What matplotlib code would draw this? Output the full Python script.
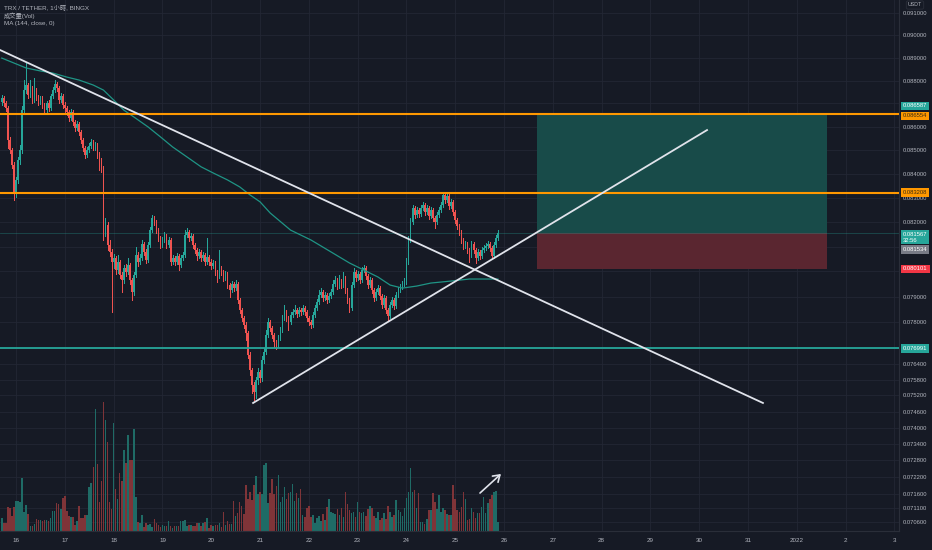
import matplotlib
matplotlib.use('Agg')
import matplotlib.pyplot as plt
import matplotlib.dates as mdates
import matplotlib.transforms as mtransforms
from matplotlib.ticker import NullLocator
import numpy as np
import pandas as pd

# 字体: 拉丁字母用 Liberation Sans, 中文回退到 Noto Sans CJK TC
plt.rcParams['font.family'] = ['Liberation Sans', 'Noto Sans CJK TC', 'DejaVu Sans']

# ---- 数据 (TRX/USDT 1小时K线, 从图上估读) ----
start_time = '2021-12-15 17:00'
first_open = 0.08706

closes = [
    0.08724, 0.08702, 0.08680, 0.08543, 0.08500, 0.08437, 0.08320,
    0.08374, 0.08458, 0.08500, 0.08671, 0.08758, 0.08780, 0.08737, 0.08767, 0.08715, 0.08758,
    0.08728, 0.08706, 0.08724, 0.08693, 0.08671, 0.08702, 0.08680, 0.08732, 0.08758, 0.08784,
    0.08767, 0.08715, 0.08732, 0.08693,
    0.08680, 0.08663, 0.08637, 0.08663, 0.08619, 0.08594, 0.08611, 0.08577, 0.08543, 0.08509,
    0.08479, 0.08500, 0.08517, 0.08534, 0.08509, 0.08522, 0.08479, 0.08450, 0.08424, 0.08159,
    0.08188, 0.08107, 0.08078, 0.08038,
    0.08054, 0.08006, 0.08038, 0.07986, 0.07966, 0.08014, 0.07998, 0.08026, 0.07966, 0.07918,
    0.07986, 0.08066, 0.08038, 0.08054, 0.08111, 0.08078, 0.08046, 0.08107, 0.08167, 0.08216,
    0.08200, 0.08167, 0.08135, 0.08107,
    0.08127, 0.08143, 0.08107, 0.08127, 0.08038, 0.08054, 0.08038, 0.08062, 0.08026, 0.08054,
    0.08066, 0.08147, 0.08159, 0.08135, 0.08143, 0.08107, 0.08086, 0.08062, 0.08078, 0.08054,
    0.08066, 0.08038, 0.08058, 0.08038,
    0.08022, 0.08034, 0.07998, 0.07982, 0.08014, 0.07998, 0.07974, 0.07990, 0.07946, 0.07926,
    0.07950, 0.07934, 0.07950, 0.07887, 0.07848, 0.07816, 0.07789, 0.07758, 0.07674, 0.07616,
    0.07560, 0.07534, 0.07578, 0.07609,
    0.07586, 0.07654, 0.07685, 0.07751, 0.07800, 0.07777, 0.07751, 0.07724, 0.07712, 0.07739,
    0.07770, 0.07816, 0.07840, 0.07816, 0.07800, 0.07828, 0.07840, 0.07848, 0.07832, 0.07848,
    0.07840, 0.07856, 0.07840, 0.07816,
    0.07800, 0.07789, 0.07828, 0.07856, 0.07879, 0.07907, 0.07918, 0.07895, 0.07907, 0.07887,
    0.07903, 0.07918, 0.07950, 0.07966, 0.07942, 0.07962, 0.07946, 0.07974, 0.07926, 0.07887,
    0.07856, 0.07946, 0.07998, 0.07974,
    0.07990, 0.07966, 0.08006, 0.08014, 0.07982, 0.07946, 0.07966, 0.07926, 0.07895, 0.07918,
    0.07934, 0.07903, 0.07867, 0.07895, 0.07848, 0.07824, 0.07867, 0.07887, 0.07864, 0.07907,
    0.07926, 0.07938, 0.07950, 0.07958,
    0.08038, 0.08127, 0.08200, 0.08258, 0.08229, 0.08249, 0.08233, 0.08258, 0.08270, 0.08241,
    0.08258, 0.08224, 0.08249, 0.08216, 0.08200, 0.08229, 0.08249, 0.08270, 0.08312, 0.08291,
    0.08308, 0.08266, 0.08283, 0.08241,
    0.08208, 0.08184, 0.08159, 0.08127, 0.08102, 0.08111, 0.08086, 0.08066, 0.08111, 0.08086,
    0.08054, 0.08078, 0.08062, 0.08086, 0.08094, 0.08102, 0.08111, 0.08094, 0.08062, 0.08107,
    0.08135, 0.08157,
]

highs = [
    0.08737, 0.08732, 0.08711, 0.08689, 0.08556, 0.08509, 0.08450,
    0.08387, 0.08471, 0.08522, 0.08689, 0.08802, 0.08877, 0.08789, 0.08802, 0.08776, 0.08811,
    0.08767, 0.08737, 0.08732, 0.08732, 0.08702, 0.08711, 0.08715, 0.08741, 0.08771, 0.08802,
    0.08793, 0.08776, 0.08745, 0.08741,
    0.08706, 0.08689, 0.08671, 0.08676, 0.08671, 0.08628, 0.08624, 0.08619, 0.08585, 0.08551,
    0.08517, 0.08513, 0.08530, 0.08547, 0.08543, 0.08534, 0.08530, 0.08492, 0.08466, 0.08433,
    0.08216, 0.08200, 0.08127, 0.08090,
    0.08070, 0.08062, 0.08066, 0.08046, 0.07998, 0.08026, 0.08030, 0.08054, 0.08034, 0.07974,
    0.07998, 0.08098, 0.08078, 0.08070, 0.08127, 0.08119, 0.08090, 0.08119, 0.08180, 0.08229,
    0.08224, 0.08208, 0.08175, 0.08143,
    0.08139, 0.08159, 0.08151, 0.08139, 0.08135, 0.08066, 0.08062, 0.08074, 0.08070, 0.08066,
    0.08078, 0.08167, 0.08175, 0.08167, 0.08155, 0.08151, 0.08115, 0.08094, 0.08090, 0.08086,
    0.08078, 0.08074, 0.08135, 0.08066,
    0.08050, 0.08046, 0.08042, 0.08006, 0.08086, 0.08022, 0.08006, 0.08002, 0.07998, 0.07954,
    0.07962, 0.07958, 0.07966, 0.07958, 0.07895, 0.07856, 0.07824, 0.07800, 0.07766, 0.07685,
    0.07624, 0.07571, 0.07590, 0.07624,
    0.07616, 0.07670, 0.07701, 0.07770, 0.07816, 0.07808, 0.07785, 0.07758, 0.07731, 0.07751,
    0.07781, 0.07828, 0.07868, 0.07848, 0.07824, 0.07840, 0.07852, 0.07868, 0.07856, 0.07860,
    0.07856, 0.07868, 0.07864, 0.07848,
    0.07824, 0.07808, 0.07840, 0.07868, 0.07891, 0.07926, 0.07934, 0.07926, 0.07918, 0.07914,
    0.07914, 0.07930, 0.07966, 0.07982, 0.07974, 0.07986, 0.07970, 0.07998, 0.07982, 0.07934,
    0.07895, 0.07958, 0.08014, 0.08006,
    0.08002, 0.07998, 0.08018, 0.08026, 0.08022, 0.07990, 0.07978, 0.07974, 0.07934, 0.07930,
    0.07946, 0.07942, 0.07911, 0.07907, 0.07903, 0.07856, 0.07879, 0.07899, 0.07895, 0.07918,
    0.07938, 0.07950, 0.07962, 0.07974,
    0.08054, 0.08143, 0.08216, 0.08270, 0.08266, 0.08262, 0.08258, 0.08270, 0.08283, 0.08279,
    0.08270, 0.08266, 0.08262, 0.08258, 0.08224, 0.08241, 0.08262, 0.08283, 0.08324, 0.08320,
    0.08320, 0.08316, 0.08295, 0.08291,
    0.08249, 0.08216, 0.08192, 0.08167, 0.08135, 0.08123, 0.08119, 0.08094, 0.08123, 0.08119,
    0.08094, 0.08090, 0.08086, 0.08098, 0.08107, 0.08115, 0.08123, 0.08119, 0.08102, 0.08119,
    0.08147, 0.08167,
]

lows = [
    0.08693, 0.08689, 0.08667, 0.08509, 0.08487, 0.08424, 0.08291,
    0.08303, 0.08361, 0.08441, 0.08487, 0.08658, 0.08745, 0.08724, 0.08728, 0.08702, 0.08706,
    0.08715, 0.08693, 0.08697, 0.08680, 0.08658, 0.08663, 0.08667, 0.08671, 0.08724, 0.08749,
    0.08754, 0.08702, 0.08706, 0.08680,
    0.08663, 0.08650, 0.08624, 0.08628, 0.08607, 0.08581, 0.08585, 0.08564, 0.08530, 0.08496,
    0.08466, 0.08471, 0.08492, 0.08509, 0.08500, 0.08500, 0.08466, 0.08416, 0.08408, 0.08127,
    0.08143, 0.08086, 0.08062, 0.07840,
    0.08014, 0.07990, 0.07994, 0.07974, 0.07918, 0.07954, 0.07982, 0.07990, 0.07950, 0.07887,
    0.07907, 0.07978, 0.08022, 0.08030, 0.08046, 0.08066, 0.08034, 0.08038, 0.08098, 0.08159,
    0.08188, 0.08155, 0.08123, 0.08094,
    0.08098, 0.08119, 0.08094, 0.08098, 0.08026, 0.08030, 0.08026, 0.08030, 0.08006, 0.08018,
    0.08046, 0.08058, 0.08139, 0.08123, 0.08127, 0.08094, 0.08074, 0.08046, 0.08054, 0.08042,
    0.08046, 0.08026, 0.08030, 0.08026,
    0.08010, 0.08014, 0.07986, 0.07958, 0.07974, 0.07986, 0.07962, 0.07966, 0.07934, 0.07899,
    0.07918, 0.07922, 0.07926, 0.07875, 0.07836, 0.07804, 0.07778, 0.07731, 0.07662, 0.07597,
    0.07530, 0.07503, 0.07511, 0.07563,
    0.07571, 0.07575, 0.07643, 0.07678, 0.07743, 0.07766, 0.07739, 0.07705, 0.07697, 0.07705,
    0.07731, 0.07762, 0.07808, 0.07804, 0.07770, 0.07793, 0.07820, 0.07832, 0.07820, 0.07824,
    0.07828, 0.07832, 0.07828, 0.07804,
    0.07789, 0.07777, 0.07781, 0.07820, 0.07848, 0.07871, 0.07899, 0.07883, 0.07887, 0.07875,
    0.07879, 0.07895, 0.07911, 0.07942, 0.07930, 0.07934, 0.07934, 0.07938, 0.07914, 0.07875,
    0.07840, 0.07848, 0.07938, 0.07962,
    0.07966, 0.07954, 0.07958, 0.07998, 0.07970, 0.07934, 0.07938, 0.07914, 0.07883, 0.07887,
    0.07911, 0.07891, 0.07856, 0.07860, 0.07836, 0.07808, 0.07816, 0.07860, 0.07852, 0.07856,
    0.07899, 0.07918, 0.07930, 0.07942,
    0.07950, 0.08030, 0.08119, 0.08192, 0.08216, 0.08220, 0.08220, 0.08224, 0.08249, 0.08229,
    0.08233, 0.08212, 0.08216, 0.08204, 0.08175, 0.08192, 0.08220, 0.08241, 0.08262, 0.08279,
    0.08283, 0.08254, 0.08258, 0.08229,
    0.08196, 0.08171, 0.08147, 0.08115, 0.08090, 0.08094, 0.08074, 0.08038, 0.08058, 0.08074,
    0.08034, 0.08046, 0.08050, 0.08054, 0.08078, 0.08086, 0.08094, 0.08082, 0.08054, 0.08054,
    0.08098, 0.08127,
]

# 成交量 (相对单位)
volumes = [
    13, 8, 8, 24, 23, 15, 24,
    30, 30, 29, 53, 19, 26, 17, 5, 5, 7, 12, 11, 11, 10, 11, 11, 10, 13, 20, 20, 28, 27, 22, 33,
    35, 20, 15, 14, 14, 6, 10, 25, 13, 13, 16, 16, 44, 48, 64, 122, 67, 29, 50, 129, 111, 89, 29, 22,
    108, 42, 32, 58, 50, 81, 68, 96, 71, 71, 102, 34, 9, 8, 16, 4, 8, 6, 7, 4, 12, 8, 6, 4,
    6, 5, 5, 10, 5, 3, 5, 5, 5, 10, 10, 11, 5, 6, 6, 5, 5, 8, 8, 5, 8, 9, 13, 3,
    6, 5, 6, 6, 8, 4, 19, 6, 10, 7, 7, 30, 15, 18, 29, 25, 17, 46, 32, 39,
    31, 46, 55, 37, 39, 37, 66, 68, 28, 38, 52, 37, 45, 56, 29, 34, 44, 32, 38, 39,
    47, 30, 38, 33, 42, 16, 14, 23, 25, 14, 16, 8, 13, 15, 10, 17, 11, 24, 32, 19,
    18, 17, 22, 16, 23, 14, 39, 27, 21, 18, 19, 14, 29, 19, 18, 19, 15, 22, 25, 23,
    15, 13, 19, 11, 13, 18, 12, 25, 19, 14, 16, 31, 21, 19, 15, 23, 33, 39, 63, 39,
    41, 23, 38, 9, 9, 7, 12, 21, 21, 38, 29, 22, 36, 19, 23, 21, 17, 16, 16, 46,
    32, 21, 19, 24, 39, 32, 11, 12, 23, 19, 13, 18, 18, 24, 34, 18, 28, 32, 36, 39,
    40, 9,
]

# MA(144) 读点: K线序号 -> 数值
ma_idx = [0, 6, 12, 19, 25, 32, 38, 45, 50, 55, 60, 65, 72, 78, 84, 91, 98, 104, 111, 117,
          122, 127, 132, 142, 152, 162, 171, 178, 185, 191, 197, 204, 211, 221, 230, 244]
ma_vals = [0.08899, 0.08877, 0.08855, 0.08842, 0.08833, 0.08815, 0.08802, 0.08780, 0.08758,
           0.08715, 0.08671, 0.08641, 0.08598, 0.08556, 0.08513, 0.08471, 0.08429, 0.08403,
           0.08374, 0.08345, 0.08312, 0.08283, 0.08237, 0.08167, 0.08127, 0.08078, 0.08034,
           0.08006, 0.07978, 0.07946, 0.07934, 0.07942, 0.07954, 0.07962, 0.07970, 0.07970]

# 水平线和多头仓位工具
level_top = 0.086554
level_mid = 0.083208
level_support = 0.076991
tp_price = 0.086587
entry_price = 0.081534
stop_price = 0.080101
last_price = 0.081567
countdown = '32:56'
pos_start, pos_end = '2021-12-26 16:00', '2022-01-01 15:00'

# 趋势线 (时间, 价格)
down_line_t = ['2021-12-15 16:07', '2021-12-31 07:20']
down_line_p = [0.08935, 0.07492]
up_line_t = ['2021-12-20 20:35', '2021-12-30 03:50']
up_line_p = [0.07492, 0.08585]
arrow_t = ['2021-12-25 11:10', '2021-12-25 23:30']
arrow_p = [0.07156, 0.07238]

price_ticks = [0.091, 0.090, 0.089, 0.088, 0.087, 0.086, 0.085, 0.084, 0.083, 0.082,
               0.081, 0.080, 0.079, 0.078, 0.077, 0.0764, 0.0758, 0.0752, 0.0746,
               0.0740, 0.0734, 0.0728, 0.0722, 0.0716, 0.0711, 0.0706]
# 被右侧价格标签遮住的刻度, 不写文字
hidden_ticks = [0.087, 0.081, 0.080, 0.077]
date_ticks = pd.date_range('2021-12-16', '2022-01-03', freq='D')
date_labels = [str(d.day) for d in date_ticks[:16]] + ['2022', '2', '3']
x_range = ['2021-12-15 16:07', '2022-01-03 02:15']
y_range = [0.070283, 0.091607]

# ---- 颜色 ----
bg = '#161a25'
grid_c = '#232734'
text_c = '#b2b5be'
up_c = '#26a69a'
down_c = '#ef5350'
orange = '#ff9800'
white_line = '#e0e3eb'

W, H = 932, 550
fig = plt.figure(figsize=(W / 100, H / 100), dpi=100)
fig.patch.set_facecolor(bg)
rect = [0, (H - 531) / H, 899 / W, 531 / H]
ax_v = fig.add_axes(rect)
ax = fig.add_axes(rect, sharex=ax_v)
ax.patch.set_visible(False)
ax_v.set_facecolor(bg)

times = mdates.date2num(pd.date_range(start_time, periods=len(closes), freq='h'))
closes_a = np.array(closes)
opens_a = np.array([first_open] + closes[:-1])
is_up = closes_a >= opens_a
cols = np.where(is_up, up_c, down_c)
vol_cols = np.where(is_up, '#1f6b66', '#7f3438')

ax.set_yscale('log')
ax.set_ylim(*y_range)
ax.set_xlim(mdates.datestr2num(x_range[0]), mdates.datestr2num(x_range[1]))

# 网格 (画在底层的成交量坐标里)
price_to_v = mtransforms.blended_transform_factory(ax_v.transAxes, ax.transData)
for p in price_ticks:
    ax_v.plot([0, 1], [p, p], transform=price_to_v, color=grid_c, lw=0.6, zorder=0)
for d in date_ticks:
    ax_v.axvline(mdates.date2num(d), color=grid_c, lw=0.6, zorder=0)

# 成交量
ax_v.bar(times, volumes, width=0.75 / 24, color=vol_cols, lw=0, antialiased=False, zorder=2)
ax_v.set_ylim(0, max(volumes) * 4.12)
ax_v.set_yticks([])
for s in ax_v.spines.values():
    s.set_visible(False)
ax_v.tick_params(axis='x', labelbottom=False, length=0)

# 仓位工具
pos_x = [mdates.datestr2num(pos_start), mdates.datestr2num(pos_end)]
ax.fill_between(pos_x, entry_price, tp_price, color='#184b49', lw=0, zorder=1)
ax.fill_between(pos_x, stop_price, entry_price, color='#5a2630', lw=0, zorder=1)

# K线
ax.vlines(times, lows, highs, colors=cols, lw=0.7, antialiaseds=False, zorder=3)
body_lo = np.minimum(opens_a, closes_a)
body_h = np.maximum(np.abs(closes_a - opens_a), 0.000012)
ax.bar(times, body_h, bottom=body_lo, width=0.75 / 24, color=cols, lw=0,
       antialiased=False, zorder=4)

# MA
ax.plot(times[ma_idx], ma_vals, color='#1f9485', lw=0.9, zorder=5)

# 水平线
ax.axhline(last_price, color=up_c, lw=0.6, alpha=0.35, zorder=2)
ax.axhline(level_top, color=orange, lw=1.5, zorder=6)
ax.axhline(level_mid, color=orange, lw=1.5, zorder=6)
ax.axhline(level_support, color=up_c, lw=1.3, zorder=6)

# 趋势线
ax.plot(mdates.datestr2num(down_line_t), down_line_p, color=white_line, lw=1.3, zorder=7)
ax.plot(mdates.datestr2num(up_line_t), up_line_p, color=white_line, lw=1.3, zorder=7)
ax.annotate('', xy=(mdates.datestr2num(arrow_t[1]), arrow_p[1]),
            xytext=(mdates.datestr2num(arrow_t[0]), arrow_p[0]),
            arrowprops=dict(arrowstyle='->,head_length=0.45,head_width=0.3',
                            color=white_line, lw=1.2), zorder=8)

# 坐标轴
ax.yaxis.tick_right()
ax.set_yticks(price_ticks)
ax.set_yticklabels(['' if p in hidden_ticks else f'{p:.6f}' for p in price_ticks])
ax.yaxis.set_minor_locator(NullLocator())
ax.tick_params(axis='y', length=0, pad=3, labelsize=4.2, labelcolor=text_c)
ax.set_xticks(mdates.date2num(date_ticks))
ax.set_xticklabels(date_labels)
ax.tick_params(axis='x', length=0, pad=5, labelsize=4.5, labelcolor=text_c)
for name, s in ax.spines.items():
    if name in ('right', 'bottom'):
        s.set_color('#2a2e39')
        s.set_linewidth(0.8)
    else:
        s.set_visible(False)

# 右侧价格标签
tag_tr = mtransforms.blended_transform_factory(ax.transAxes, ax.transData)


def price_tag(price, text, fc, tc='white', dy=0, va='center'):
    ax.annotate(text, xy=(1.0, price), xycoords=tag_tr, xytext=(3, dy),
                textcoords='offset points', ha='left', va=va, fontsize=4.2,
                color=tc, linespacing=1.25, annotation_clip=False, zorder=20,
                bbox=dict(boxstyle='square,pad=0.3', fc=fc, ec='none'))


price_tag(tp_price, f'{tp_price:.6f}', up_c, dy=5)
price_tag(level_top, f'{level_top:.6f}', orange, tc='#3a2a10', dy=-1.5)
price_tag(level_mid, f'{level_mid:.6f}', orange, tc='#3a2a10')
price_tag(last_price, f'{last_price:.6f}\n{countdown}', up_c, dy=-3.2)
price_tag(entry_price, f'{entry_price:.6f}', '#787b86', dy=-11.5)
price_tag(stop_price, f'{stop_price:.6f}', '#f23645')
price_tag(level_support, f'{level_support:.6f}', up_c)

fig.text(915 / W, 1 - 5 / H, 'USDT', ha='center', va='center', fontsize=3.8, color=text_c,
         bbox=dict(boxstyle='round,pad=0.3', fc=bg, ec='#2a2e39', lw=0.6))

# 左上角图例
legend_lines = ['TRX / TETHER, 1小時, BINGX', '成交量(Vol)', 'MA (144, close, 0)']
for i, t in enumerate(legend_lines):
    fig.text(4 / W, 1 - (8 + 8 * i) / H, t, ha='left', va='center', fontsize=4.5, color=text_c)

fig.savefig('out.png', dpi=100, facecolor=bg)
